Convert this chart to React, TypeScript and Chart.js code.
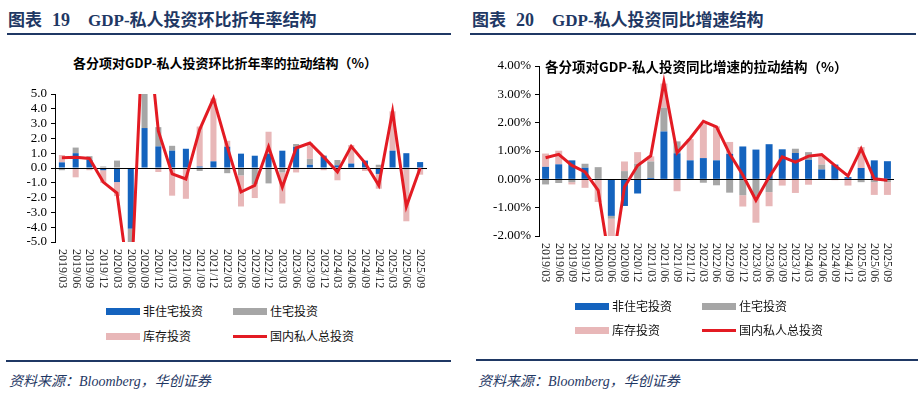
import React, { useEffect, useRef } from 'react';
import { Chart, registerables } from 'chart.js';
Chart.register(...registerables);

const categories = [
  '2019/03', '2019/06', '2019/09', '2019/12', '2020/03', '2020/06', '2020/09', '2020/12',
  '2021/03', '2021/06', '2021/09', '2021/12', '2022/03', '2022/06', '2022/09', '2022/12',
  '2023/03', '2023/06', '2023/09', '2023/12', '2024/03', '2024/06', '2024/09', '2024/12',
  '2025/03', '2025/06', '2025/09',
];

// Chart 19: QoQ annualized contributions (pct pts)
const qoqNonres = [0.38, 1.0, 0.55, -0.15, -0.95, -4.1, 2.7, 1.46, 1.17, 1.3, 0.1, 0.45, 1.44, 0.97, 0.83, 0.97, 1.17, 1.42, 0.22, 0.8, 0.18, 0.3, 0.5, -0.4, 1.17, 1.0, 0.4];
const qoqResid = [-0.15, 0.38, 0.25, 0.1, 0.5, -1.1, 2.4, 1.3, 0.33, -0.05, -0.2, -0.05, -0.35, -0.5, -1.1, -1.04, -0.3, 0.2, 0.4, 0.05, 0.36, -0.05, -0.05, 0.22, 0.0, -0.1, -0.05];
const qoqInv = [0.5, -0.63, -0.15, -0.85, -0.95, -3.4, 6.6, -0.27, -1.87, -2.03, 2.7, 4.25, 0.4, -2.1, -0.93, 1.48, -2.1, -0.3, 1.06, -0.15, -0.83, 1.25, -0.15, -1.0, 2.66, -3.5, -0.4];
const qoqTotal = [0.7, 0.72, 0.65, -0.95, -1.7, -8.6, 11.7, 2.5, -0.4, -0.74, 2.6, 4.7, 1.45, -1.62, -1.17, 1.44, -1.3, 1.35, 1.69, 0.75, -0.27, 1.46, 0.35, -1.17, 3.83, -2.6, 0.0];

// Chart 20: YoY contributions (%)
const yoyNonres = [0.44, 0.53, 0.67, 0.41, 0.02, -1.29, -0.94, -0.5, 0.05, 1.69, 0.92, 0.67, 0.75, 0.67, 0.9, 1.16, 1.05, 1.24, 1.06, 0.93, 0.69, 0.35, 0.52, 0.08, 0.4, 0.67, 0.64];
const yoyResid = [-0.18, -0.13, -0.1, 0.14, 0.41, -0.1, 0.29, 0.55, 0.58, 0.84, 0.42, -0.02, -0.12, -0.21, -0.47, -0.56, -0.59, -0.45, -0.02, 0.15, 0.27, 0.17, 0.0, 0.0, -0.1, -0.1, -0.1];
const yoyInv = [0.47, 0.48, -0.08, -0.3, -0.8, -1.9, 0.34, 0.41, 0.18, 0.85, -0.42, 0.75, 1.2, 1.2, 0.42, -0.4, -0.94, -0.5, -0.2, -0.48, -0.19, 0.27, -0.03, -0.22, 0.74, -0.45, -0.45];
const yoyTotal = [0.76, 0.88, 0.49, 0.26, -0.39, -3.3, -0.27, 0.49, 0.83, 3.43, 0.94, 1.45, 2.05, 1.85, 0.9, 0.15, -0.74, 0.08, 0.79, 0.61, 0.82, 0.87, 0.49, 0.12, 1.08, 0.02, -0.03];

const seriesNames = ['非住宅投资', '住宅投资', '库存投资', '国内私人总投资'];

const BLUE = '#1463BE';
const GRAY = '#A6A6A6';
const PINK = '#E8B7B8';
const RED = '#E31B23';
const NAVY = '#1F3864';
const SERIF = "'Liberation Serif','Times New Roman',serif";
const CJK = "'Noto Sans CJK SC','Noto Sans',sans-serif";

type ChartProps = {
  left: number; top: number; width: number; height: number;
  nonres: number[]; resid: number[]; inv: number[]; total: number[];
  yMin: number; yMax: number; fmt: (v: number) => string;
  axisWidth: number; padTop: number; padRight: number; xHeight: number;
  barPct: number; labelGap: number;
};

function StackChart(p: ChartProps) {
  const ref = useRef<HTMLCanvasElement>(null);
  useEffect(() => {
    if (!ref.current) return;
    const zeroLine = {
      id: 'zeroLine',
      beforeDatasetDraw(chart: any, args: any) {
        if (args.meta.type !== 'line') return;
        const { ctx, chartArea } = chart;
        const y = Math.round(chart.scales.y.getPixelForValue(0)) + 0.5;
        ctx.save();
        ctx.strokeStyle = '#000';
        ctx.lineWidth = 1;
        ctx.beginPath();
        ctx.moveTo(chartArea.left, y);
        ctx.lineTo(chartArea.right, y);
        ctx.stroke();
        ctx.restore();
      },
    };
    const xLabels = {
      id: 'xLabels',
      afterDraw(chart: any) {
        const { ctx, chartArea } = chart;
        const xs = chart.scales.x;
        ctx.save();
        ctx.font = `12px ${SERIF}`;
        ctx.fillStyle = '#2a2a2a';
        ctx.textAlign = 'left';
        ctx.textBaseline = 'middle';
        categories.forEach((c, i) => {
          const x = xs.getPixelForValue(i);
          ctx.save();
          ctx.translate(x, chartArea.bottom + p.labelGap);
          ctx.rotate(Math.PI / 2);
          ctx.fillText(c, 0, 0);
          ctx.restore();
        });
        ctx.restore();
      },
    };
    const barCommon = { stack: 's', order: 1, barPercentage: p.barPct, categoryPercentage: 1, clip: 0 };
    const chart = new Chart(ref.current, {
      type: 'bar',
      data: {
        labels: categories,
        datasets: [
          { ...barCommon, label: seriesNames[0], data: p.nonres, backgroundColor: BLUE } as any,
          { ...barCommon, label: seriesNames[1], data: p.resid, backgroundColor: GRAY } as any,
          { ...barCommon, label: seriesNames[2], data: p.inv, backgroundColor: PINK } as any,
          {
            type: 'line', label: seriesNames[3], data: p.total, borderColor: RED, backgroundColor: RED,
            borderWidth: 3, pointRadius: 0, fill: false, tension: 0, order: 0, stack: 'line', clip: 0,
          } as any,
        ],
      },
      options: {
        responsive: false,
        animation: false,
        devicePixelRatio: 1,
        layout: { padding: { top: p.padTop, right: p.padRight, left: 0, bottom: 0 } },
        plugins: { legend: { display: false }, tooltip: { enabled: false }, title: { display: false } },
        scales: {
          x: {
            stacked: true,
            ticks: { display: false },
            grid: { display: false },
            border: { display: false },
            afterFit: (s: any) => { s.height = p.xHeight; },
          },
          y: {
            stacked: true,
            min: p.yMin,
            max: p.yMax,
            afterFit: (s: any) => { s.width = p.axisWidth; },
            ticks: {
              stepSize: 1, autoSkip: false, color: '#000', padding: 4,
              font: { family: SERIF, size: 13 },
              callback: (v: any) => p.fmt(Number(v)),
            },
            grid: { drawOnChartArea: false, tickLength: 4, tickColor: '#000', color: '#000' },
            border: { display: true, color: '#000', width: 1 },
          },
        },
      } as any,
      plugins: [zeroLine, xLabels],
    });
    return () => chart.destroy();
  }, []);
  return (
    <canvas
      ref={ref}
      width={p.width}
      height={p.height}
      style={{ position: 'absolute', left: p.left, top: p.top, width: p.width, height: p.height }}
    />
  );
}

function Legend({ left, top1, top2 }: { left: number; top1: number; top2: number }) {
  const items = [
    { x: 0, y: top1, kind: 'box', color: BLUE, name: seriesNames[0] },
    { x: 127, y: top1, kind: 'box', color: GRAY, name: seriesNames[1] },
    { x: 0, y: top2, kind: 'box', color: PINK, name: seriesNames[2] },
    { x: 127, y: top2, kind: 'line', color: RED, name: seriesNames[3] },
  ];
  return (
    <>
      {items.map((it) => (
        <div key={it.name} style={{ position: 'absolute', left: left + it.x, top: it.y - 8, height: 16, display: 'flex', alignItems: 'center' }}>
          <div style={{ width: 34, height: it.kind === 'box' ? 7 : 3, background: it.color }} />
          <span style={{ marginLeft: 3, font: `12px ${CJK}`, color: '#111', lineHeight: '16px' }}>{it.name}</span>
        </div>
      ))}
    </>
  );
}

function Header({ left, num, text }: { left: number; num: string; text: string }) {
  return (
    <div style={{ position: 'absolute', left, top: 6, lineHeight: '20px', font: `bold 17px ${SERIF}, ${CJK}`, color: NAVY, whiteSpace: 'nowrap' }}>
      <span style={{ fontFamily: CJK, letterSpacing: 0 }}>图表</span>
      <span style={{ marginLeft: 10, fontSize: 18 }}>{num}</span>
      <span style={{ marginLeft: 18 }}>{text}</span>
    </div>
  );
}

export default function App() {
  const titleSt: React.CSSProperties = { position: 'absolute', font: `bold 13px ${CJK}`, color: '#000', whiteSpace: 'nowrap', lineHeight: '16px' };
  const srcSt: React.CSSProperties = { position: 'absolute', top: 370, lineHeight: '18px', font: `italic 14px ${SERIF}, ${CJK}`, color: NAVY, whiteSpace: 'nowrap' };
  return (
    <div style={{ position: 'absolute', left: 0, top: 0, width: 923, height: 394, background: '#fff', overflow: 'hidden' }}>
      <Header left={8} num="19" text="GDP-私人投资环比折年率结构" />
      <Header left={472} num="20" text="GDP-私人投资同比增速结构" />
      <div style={{ position: 'absolute', left: 7, top: 33, width: 444, height: 1.5, background: NAVY }} />
      <div style={{ position: 'absolute', left: 470, top: 33, width: 446, height: 1.5, background: NAVY }} />

      <div style={{ ...titleSt, left: 0, width: 450, textAlign: 'center', top: 55 }}>各分项对GDP-私人投资环比折年率的拉动结构（%）</div>

      <StackChart
        left={0} top={80} width={450} height={220}
        nonres={qoqNonres} resid={qoqResid} inv={qoqInv} total={qoqTotal}
        yMin={-5} yMax={5} fmt={(v) => v.toFixed(1)}
        axisWidth={55} padTop={14} padRight={23} xHeight={58} barPct={0.44} labelGap={7}
      />
      <StackChart
        left={460} top={50} width={463} height={250}
        nonres={yoyNonres} resid={yoyResid} inv={yoyInv} total={yoyTotal}
        yMin={-2} yMax={4} fmt={(v) => v.toFixed(2) + '%'}
        axisWidth={79} padTop={16} padRight={29} xHeight={64} barPct={0.53} labelGap={7}
      />
      <div style={{ ...titleSt, left: 545, top: 58, fontSize: 13.5 }}>各分项对GDP-私人投资同比增速的拉动结构（%）</div>

      <Legend left={106} top1={311} top2={336} />
      <Legend left={575} top1={306} top2={330} />

      <div style={{ position: 'absolute', left: 6, top: 360, width: 445, height: 1.5, background: NAVY }} />
      <div style={{ position: 'absolute', left: 476, top: 359, width: 442, height: 1.5, background: NAVY }} />
      <div style={{ ...srcSt, left: 9 }}>资料来源：Bloomberg，华创证券</div>
      <div style={{ ...srcSt, left: 478 }}>资料来源：Bloomberg，华创证券</div>
    </div>
  );
}
